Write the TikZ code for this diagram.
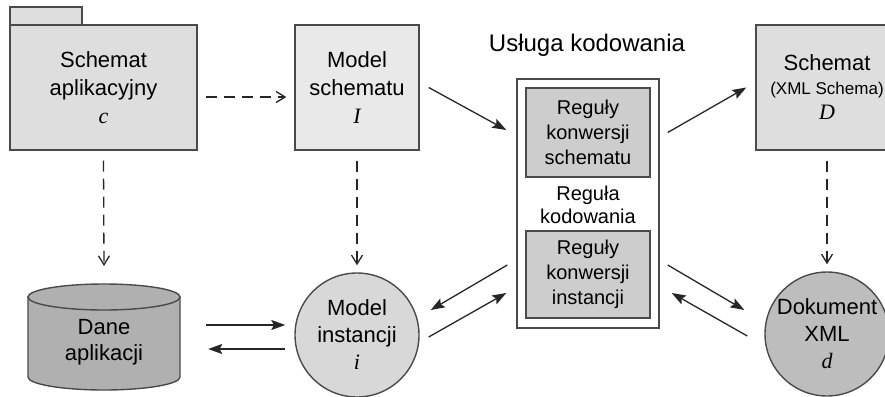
\documentclass[tikz,border=0pt]{standalone}
\usepackage{fontspec}
\setmainfont{Liberation Sans}
\newfontfamily\letterfont{Liberation Serif}
\usetikzlibrary{arrows.meta}
\definecolor{edge}{HTML}{4A4A4A}
\definecolor{fillA}{HTML}{DEDEDE}
\definecolor{fillB}{HTML}{E9E9E9}
\definecolor{fillC}{HTML}{CDCDCD}
\definecolor{fillD}{HTML}{D8D8D8}
\definecolor{fillE}{HTML}{BDBDBD}
\definecolor{fillF}{HTML}{B0B0B0}
\newcommand{\sym}[1]{{\letterfont\itshape #1}}
\tikzset{
  shapeline/.style={draw=edge, line width=1.4pt},
  box/.style={shapeline, rectangle, inner sep=0pt, align=center,
    font=\fontsize{22}{28}\selectfont},
  rulebox/.style={box, fill=fillC, minimum width=124pt,
    font=\fontsize{20}{25}\selectfont},
  disc/.style={shapeline, circle, minimum size=124pt, inner sep=0pt, align=center,
    font=\fontsize{22}{27}\selectfont},
  flow/.style={line width=1.3pt, draw=black!85,
    -{Stealth[length=14pt,width=10pt,inset=2.5pt]}},
  derive/.style={line width=1.3pt, draw=black!85, dash pattern=on 11pt off 7pt,
    -{Straight Barb[length=9pt,width=11pt]}},
}
\begin{document}
\begin{tikzpicture}[x=1pt,y=-1pt]
\useasboundingbox (0,0) rectangle (885,396);
\begin{scope}
\clip (0,0) rectangle (885,396);

% application schema package (folder with tab)
\draw[shapeline, fill=fillA] (10,7) rectangle (82,25);
\node[box, fill=fillA, minimum width=187pt, minimum height=125pt] (app) at (103.5,87.5)
  {Schemat\\aplikacyjny\\\sym{c}};

% schema model
\node[box, fill=fillB, minimum width=124pt, minimum height=125pt] (ms) at (357,87.5)
  {Model\\schematu\\\sym{I}};

% target schema
\node[box, fill=fillA, minimum width=142pt, minimum height=125pt] (xsd) at (827,87.5)
  {Schemat\\[-4pt]{\fontsize{17}{20}\selectfont (XML Schema)}\\[-3pt]\sym{D}};

% encoding service
\node[font=\fontsize{24}{28}\selectfont] (title) at (587,45) {Usługa kodowania};
\node[shapeline, fill=white, rectangle, minimum width=142pt, minimum height=249pt] (svc) at (588,203.5) {};
\node[rulebox, minimum height=89pt] (rs) at (588,132.5) {Reguły\\konwersji\\schematu};
\node[align=center, font=\fontsize{20}{23}\selectfont] (rule) at (588,205) {Reguła\\kodowania};
\node[rulebox, minimum height=87pt] (ri) at (588,274.5) {Reguły\\konwersji\\instancji};

% instance model and XML document
\node[disc, fill=fillD] (mi) at (357,335) {Model\\instancji\\\sym{i}};
\node[disc, fill=fillE] (doc) at (827,334) {Dokument\\XML\\\sym{d}};

% application data store (cylinder)
\path[shapeline, fill=fillF] (28,297) -- (28,377)
  arc[start angle=180, end angle=0, x radius=76, y radius=13] -- (180,297) -- cycle;
\draw[shapeline, fill=fillF] (104,297) ellipse [x radius=76, y radius=13];
\node[align=center, minimum width=152pt, inner sep=0pt, font=\fontsize{22}{26}\selectfont] (data) at (104,342) {Dane\\aplikacji};
\coordinate (datatop) at (104,266);

% dependencies
\draw[derive] ([xshift=8pt,yshift=-9.5pt]app.east) -- ([xshift=-8pt,yshift=-9.5pt]ms.west);
\draw[derive] ([yshift=-10pt]app.south) -- (datatop);
\draw[derive] ([yshift=-10pt]ms.south) -- ([yshift=7pt]mi.north);
\draw[derive] ([yshift=-10pt]xsd.south) -- ([yshift=7pt]doc.north);

% conversions
\draw[flow] ([xshift=9pt]ms.east) -- ([xshift=-19pt,yshift=2.5pt]rs.west);
\draw[flow] ([xshift=17pt]rs.east) -- ([xshift=-9pt]xsd.west);
\draw[flow] ([xshift=-18pt,yshift=9.5pt]ri.west) -- ([xshift=11pt,yshift=25pt]mi.east);
\draw[flow] ([xshift=9pt,yshift=-2pt]mi.east) -- ([xshift=-19pt,yshift=-18.5pt]ri.west);
\draw[flow] ([xshift=17pt,yshift=9.5pt]ri.east) -- ([xshift=-20pt,yshift=24pt]doc.west);
\draw[flow] ([xshift=-17pt,yshift=-2pt]doc.west) -- ([xshift=21pt,yshift=-18.5pt]ri.east);
\draw[flow] ([xshift=26pt,yshift=17pt]data.east) -- ([xshift=-9pt,yshift=10pt]mi.west);
\draw[flow] ([xshift=-9pt,yshift=-14pt]mi.west) -- ([xshift=28pt,yshift=-7pt]data.east);
\end{scope}
\end{tikzpicture}
\end{document}
